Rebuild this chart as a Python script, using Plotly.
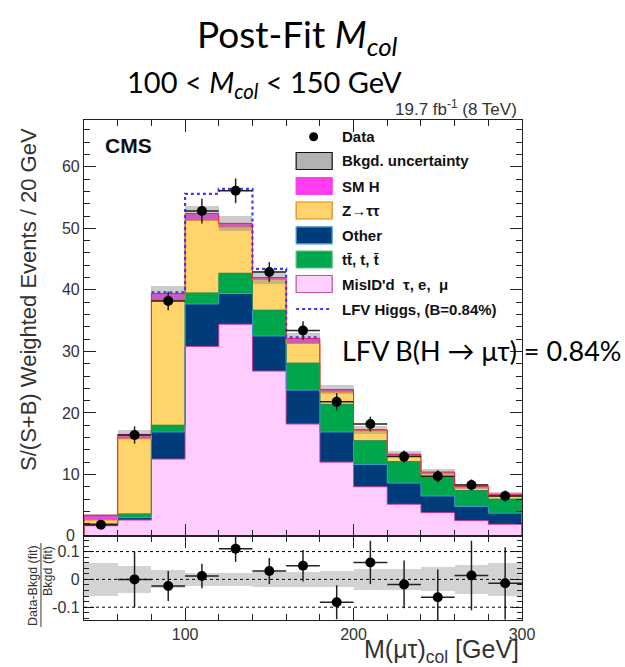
import plotly.graph_objects as go
import numpy as np

# ---------------- data ----------------
bin_edges = [40, 60, 80, 100, 120, 140, 160, 180, 200, 220, 240, 260, 280, 300]
bin_centers = [50, 70, 90, 110, 130, 150, 170, 190, 210, 230, 250, 270, 290]

misid = [1.67, 2.6, 12.5, 30.8, 34.4, 26.8, 18.2, 12.0, 8.0, 5.15, 3.8, 2.5, 1.9]
other = [0.17, 0.4, 4.4, 6.9, 5.0, 5.7, 5.5, 4.9, 3.6, 3.45, 2.7, 2.3, 1.8]
ttbar = [0.16, 0.6, 1.1, 1.8, 3.3, 4.2, 4.4, 4.5, 3.9, 3.5, 3.0, 2.6, 2.3]
ztautau = [0.6, 12.2, 20.2, 11.8, 7.5, 5.0, 3.2, 2.0, 1.6, 0.9, 0.7, 0.45, 0.4]
smh = [0.76, 0.7, 1.2, 1.1, 0.6, 0.3, 0.8, 0.4, 0.15, 0.3, 0.2, 0.25, 0.4]
lfv_signal = [0.0, 0.0, 0.2, 3.2, 5.6, 1.4, 0.2, 0.0, 0.0, 0.0, 0.0, 0.0, 0.0]

data = [1.84, 16.4, 38.2, 52.8, 56.1, 42.9, 33.4, 21.8, 18.2, 12.9, 9.7, 8.3, 6.5]
data_err = [0.6, 1.4, 1.5, 2.0, 2.0, 1.6, 1.5, 1.4, 1.2, 1.0, 1.0, 0.9, 0.9]

rel_unc = [0.06, 0.048, 0.032, 0.024, 0.024, 0.026, 0.028, 0.029, 0.038, 0.038, 0.043, 0.052, 0.058]
ratio = [-0.45, 0.0, -0.024, 0.012, 0.11, 0.03, 0.049, -0.082, 0.061, -0.018, -0.064, 0.014, -0.014]
ratio_err = [0.2, 0.1, 0.054, 0.044, 0.047, 0.047, 0.057, 0.061, 0.078, 0.086, 0.1, 0.125, 0.13]

y_ticks_main = [10, 20, 30, 40, 50, 60]
ratio_tickvals = [-0.1, 0.0, 0.1]
ratio_ticktext = ["-0.1", "0", "0.1"]
x_tickvals = [100, 200, 300]

# ---------------- styling ----------------
W, H = 625, 667
L, R, T, B = 84, 625 - 521.7, 120, 47
PW = W - L - R
PH = H - T - B
split = (620 - 536) / PH


def px(x):
    return (x - L) / PW


def py(y):
    return (620 - y) / PH


comp = [
    ("misid", misid, "#FFCCFF", "#C8409E"),
    ("other", other, "#003B7A", "#3F9AD0"),
    ("ttbar", ttbar, "#00A64C", "#2E8B4F"),
    ("ztt", ztautau, "#FFD56B", "#E0861E"),
    ("smh", smh, "#FF3CF0", "#E8254C"),
]

fig = go.Figure()

cum = np.zeros(len(bin_centers))
levels = []
for name, vals, fill, line in comp:
    v = np.array(vals)
    fig.add_trace(go.Bar(x=bin_centers, y=v, base=cum.copy(), width=20,
                         marker=dict(color=fill, line=dict(width=0)),
                         showlegend=False, xaxis="x", yaxis="y", hoverinfo="skip"))
    cum = cum + v
    levels.append((cum.copy(), line))

total = cum.copy()

# outlines of each stacked component
for lev, line in levels:
    xs = [bin_edges[0]] + list(bin_edges) + [bin_edges[-1]]
    ys = [0] + list(lev) + [lev[-1], 0]
    fig.add_trace(go.Scatter(x=xs, y=ys, mode="lines", line=dict(color=line, width=1, shape="hv"),
                             showlegend=False, xaxis="x", yaxis="y", hoverinfo="skip"))

# background uncertainty band
abs_unc = np.array(rel_unc) * total
fig.add_trace(go.Bar(x=bin_centers, y=2 * abs_unc, base=total - abs_unc, width=20,
                     marker=dict(color="rgba(130,130,130,0.42)", line=dict(width=0)),
                     showlegend=False, xaxis="x", yaxis="y", hoverinfo="skip"))

# LFV Higgs on top of the stack (drawn where the signal is present)
lfv_tot = total + np.array(lfv_signal)
nz = [i for i, s in enumerate(lfv_signal) if s > 0]
i0, i1 = nz[0], nz[-1]
lx = list(bin_edges[i0:i1 + 2])
ly = list(lfv_tot[i0:i1 + 1]) + [lfv_tot[i1]]
fig.add_trace(go.Scatter(x=lx, y=ly, mode="lines",
                         line=dict(color="#3B3BFF", width=2.2, dash="dot", shape="hv"),
                         showlegend=False, xaxis="x", yaxis="y", hoverinfo="skip"))

# data
fig.add_trace(go.Scatter(x=bin_centers, y=data, mode="markers",
                         marker=dict(color="black", size=10),
                         error_y=dict(type="data", array=data_err, color="#222", thickness=1.5, width=0),
                         error_x=dict(type="constant", value=10, color="#222", thickness=1.5, width=0),
                         showlegend=False, xaxis="x", yaxis="y"))

# ratio panel band
ru = np.array(rel_unc)
fig.add_trace(go.Bar(x=bin_centers, y=2 * ru, base=-ru, width=20,
                     marker=dict(color="#D3D3D3", line=dict(width=0)),
                     showlegend=False, xaxis="x2", yaxis="y2", hoverinfo="skip"))
fig.add_trace(go.Scatter(x=bin_centers, y=ratio, mode="markers",
                         marker=dict(color="black", size=10),
                         error_y=dict(type="data", array=ratio_err, color="#222", thickness=1.5, width=0),
                         error_x=dict(type="constant", value=10, color="#222", thickness=1.5, width=0),
                         showlegend=False, xaxis="x2", yaxis="y2"))

axis_font = dict(family="Liberation Sans, Arial", size=16, color="#333")
common = dict(showline=True, linecolor="#222", linewidth=1.2, mirror="allticks",
              ticks="inside", tickcolor="#222", tickwidth=1.2, showgrid=False, zeroline=False)

shapes = []
for yv in ratio_tickvals:
    shapes.append(dict(type="line", xref="x2", yref="y2", x0=bin_edges[0], x1=bin_edges[-1], y0=yv, y1=yv,
                       line=dict(color="black", width=1, dash="dot")))

# manual legend
leg_rows = [
    ("Bkgd. uncertainty", "#B3B3B3", "#111", 161.0),
    ("SM H", "#FF3CF0", "#FF3CF0", 186.0),
    ("Z→ττ", "#FFD56B", "#E0861E", 210.5),
    ("Other", "#003B7A", "#4AA0D8", 235.3),
    ("tt̄, t, t̄", "#00A64C", "#5FBF7F", 259.5),
    ("MisID'd  τ, e,  μ", "#FFD1FF", "#C0509A", 284.0),
]
annotations = []
leg_font = dict(family="Liberation Sans, Arial", size=15, color="#111")
for label, fc, lc, yc in leg_rows:
    shapes.append(dict(type="rect", xref="paper", yref="paper", x0=px(296), x1=px(332),
                       y0=py(yc + 8.5), y1=py(yc - 8.5), fillcolor=fc, line=dict(color=lc, width=1.2)))
    annotations.append(dict(xref="paper", yref="paper", x=px(340), y=py(yc), text="<b>%s</b>" % label,
                            xanchor="left", yanchor="middle", showarrow=False, font=leg_font))
# data legend
shapes.append(dict(type="circle", xref="paper", yref="paper", x0=px(309), x1=px(318),
                   y0=py(141.2), y1=py(132.2), fillcolor="black", line=dict(color="black", width=0)))
annotations.append(dict(xref="paper", yref="paper", x=px(340), y=py(136.7), text="<b>Data</b>",
                        xanchor="left", yanchor="middle", showarrow=False, font=leg_font))
shapes.append(dict(type="line", xref="paper", yref="paper", x0=px(296), x1=px(332), y0=py(309), y1=py(309),
                   line=dict(color="#3B3BFF", width=2.2, dash="dot")))
annotations.append(dict(xref="paper", yref="paper", x=px(340), y=py(309), text="<b>LFV Higgs, (B=0.84%)</b>",
                        xanchor="left", yanchor="middle", showarrow=False, font=leg_font))

# texts
annotations += [
    dict(xref="paper", yref="paper", x=px(297), y=py(36), text="Post-Fit <i>M</i><sub><i>col</i></sub>",
         xanchor="center", yanchor="middle", showarrow=False,
         font=dict(family="Lato", size=37, color="black")),
    dict(xref="paper", yref="paper", x=px(264), y=py(84), text="100 < <i>M</i><sub><i>col</i></sub> < 150 GeV",
         xanchor="center", yanchor="middle", showarrow=False,
         font=dict(family="Lato", size=29, color="black")),
    dict(xref="paper", yref="paper", x=px(519), y=py(108), text="19.7 fb<sup>-1</sup> (8 TeV)",
         xanchor="right", yanchor="middle", showarrow=False,
         font=dict(family="Liberation Sans, Arial", size=17, color="#333")),
    dict(xref="paper", yref="paper", x=px(103), y=py(145), text="<b>CMS</b>",
         xanchor="left", yanchor="middle", showarrow=False,
         font=dict(family="Liberation Sans, Arial", size=21, color="#111")),
    dict(xref="paper", yref="paper", x=px(340), y=py(350), text="LFV B(H → μτ) = 0.84%",
         xanchor="left", yanchor="middle", showarrow=False,
         font=dict(family="Lato", size=27, color="black")),
    dict(xref="paper", yref="paper", x=px(28), y=py(299), text="S/(S+B) Weighted Events / 20 GeV",
         textangle=-90, xanchor="center", yanchor="middle", showarrow=False,
         font=dict(family="Liberation Sans, Arial", size=22, color="#333")),
    dict(xref="paper", yref="paper", x=px(77), y=py(535), text="0",
         xanchor="right", yanchor="middle", showarrow=False, font=axis_font),
    dict(xref="paper", yref="paper", x=px(33), y=py(585), text="Data-Bkgd (fit)",
         textangle=-90, xanchor="center", yanchor="middle", showarrow=False,
         font=dict(family="Liberation Sans, Arial", size=12.5, color="#333")),
    dict(xref="paper", yref="paper", x=px(48), y=py(571), text="Bkgd (fit)",
         textangle=-90, xanchor="center", yanchor="middle", showarrow=False,
         font=dict(family="Liberation Sans, Arial", size=12.5, color="#333")),
    dict(xref="paper", yref="paper", x=px(521), y=py(651), text="M(μτ)<sub>col</sub> [GeV]",
         xanchor="right", yanchor="middle", showarrow=False,
         font=dict(family="Liberation Sans, Arial", size=25, color="#333")),
]
shapes.append(dict(type="line", xref="paper", yref="paper", x0=px(41), x1=px(41), y0=py(543), y1=py(627),
                   line=dict(color="#333", width=1)))

fig.update_layout(
    width=W, height=H,
    margin=dict(l=L, r=R, t=T, b=B),
    paper_bgcolor="white", plot_bgcolor="white",
    barmode="overlay", bargap=0,
    showlegend=False,
    xaxis=dict(domain=[0, 1], range=[bin_edges[0], bin_edges[-1]], anchor="y", matches="x2",
               tickvals=x_tickvals, showticklabels=False, ticklen=12,
               minor=dict(dtick=20, tick0=0, ticklen=6, ticks="inside", tickcolor="#222", showgrid=False),
               **common),
    yaxis=dict(domain=[split, 1], range=[0, 67.6], anchor="x", tickvals=y_ticks_main, ticklen=12,
               tickfont=axis_font,
               minor=dict(dtick=2, tick0=0, ticklen=6, ticks="inside", tickcolor="#222", showgrid=False),
               **common),
    xaxis2=dict(domain=[0, 1], range=[bin_edges[0], bin_edges[-1]], anchor="y2",
                tickvals=x_tickvals, ticklen=12, tickfont=axis_font,
                minor=dict(dtick=20, tick0=0, ticklen=6, ticks="inside", tickcolor="#222", showgrid=False),
                **common),
    yaxis2=dict(domain=[0, split], range=[-0.146, 0.156], anchor="x2", tickvals=ratio_tickvals,
                ticktext=ratio_ticktext, ticklen=10, tickfont=axis_font,
                minor=dict(dtick=0.02, tick0=0, ticklen=5, ticks="inside", tickcolor="#222", showgrid=False),
                **common),
    shapes=shapes,
    annotations=annotations,
)

fig.write_html("out.html")
